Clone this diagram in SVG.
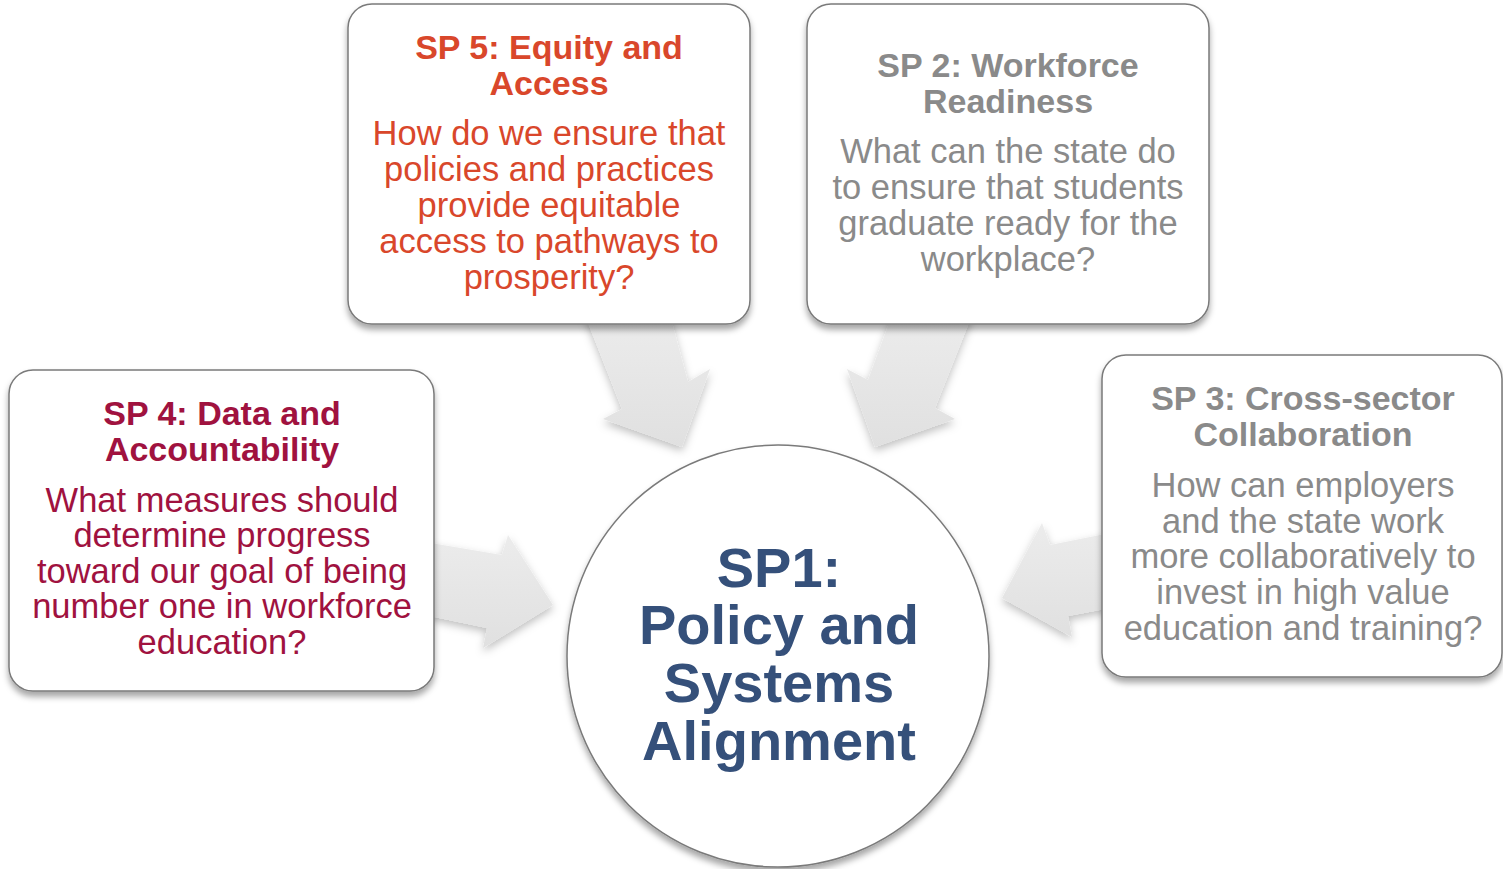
<svg xmlns="http://www.w3.org/2000/svg" width="1503" height="869" viewBox="0 0 1503 869">
<defs>
<filter id="sh" x="-10%" y="-10%" width="120%" height="125%">
<feDropShadow dx="0" dy="5" stdDeviation="3" flood-color="#000" flood-opacity="0.35"/>
</filter>
<filter id="ash" x="-20%" y="-20%" width="140%" height="140%">
<feDropShadow dx="0" dy="4" stdDeviation="4" flood-color="#000" flood-opacity="0.25"/>
</filter>
<linearGradient id="ag" x1="0" y1="0" x2="0" y2="1">
<stop offset="0" stop-color="#ececec"/>
<stop offset="1" stop-color="#e0e0e0"/>
</linearGradient>
</defs>
<style>
.box{fill:#fff;stroke:#7a7a7a;stroke-width:1.5;filter:url(#sh)}
.arr{fill:url(#ag);filter:url(#ash)}
text{font-family:"Liberation Sans",Arial,sans-serif;text-anchor:middle}
.t{font-size:34px;font-weight:bold}
.b{font-size:34.5px}
.c{font-size:56px;font-weight:bold;fill:#35507a}
.red{fill:#d9472b}
.crim{fill:#a0123f}
.gray{fill:#8a8a8a}
</style>
<g id="connectors">
<polygon class="arr" points="585,315 670,315 688,382 710,369 682,447 603,419 622,409"/>
<polygon class="arr" points="892,315 972,315 935,408 955,419 875,447 847,369 868,380"/>
<polygon class="arr" points="425,542 502,555 508,535 553,605 483,648 487,628 425,615"/>
<polygon class="arr" points="1110,533 1050,545 1042,523 1002,598 1072,637 1068,616 1110,608"/>
</g>
<g id="sp5">
<rect class="box" x="348" y="4" width="402" height="320" rx="24"/>
<text class="t red"><tspan x="549" y="59">SP 5: Equity and</tspan><tspan x="549" y="95">Access</tspan></text>
<text class="b red"><tspan x="549" y="145">How do we ensure that</tspan><tspan x="549" y="181">policies and practices</tspan><tspan x="549" y="217">provide equitable</tspan><tspan x="549" y="253">access to pathways to</tspan><tspan x="549" y="289">prosperity?</tspan></text>
</g>
<g id="sp2">
<rect class="box" x="807" y="4" width="402" height="320" rx="24"/>
<text class="t gray"><tspan x="1008" y="77">SP 2: Workforce</tspan><tspan x="1008" y="113">Readiness</tspan></text>
<text class="b gray"><tspan x="1008" y="163">What can the state do</tspan><tspan x="1008" y="199">to ensure that students</tspan><tspan x="1008" y="235">graduate ready for the</tspan><tspan x="1008" y="271">workplace?</tspan></text>
</g>
<g id="sp4">
<rect class="box" x="9" y="370" width="425" height="321" rx="24"/>
<text class="t crim"><tspan x="222" y="425">SP 4: Data and</tspan><tspan x="222" y="461">Accountability</tspan></text>
<text class="b crim"><tspan x="222" y="512">What measures should</tspan><tspan x="222" y="547">determine progress</tspan><tspan x="222" y="583">toward our goal of being</tspan><tspan x="222" y="618">number one in workforce</tspan><tspan x="222" y="654">education?</tspan></text>
</g>
<g id="sp3">
<rect class="box" x="1102" y="355" width="400" height="322" rx="24"/>
<text class="t gray"><tspan x="1303" y="410">SP 3: Cross-sector</tspan><tspan x="1303" y="446">Collaboration</tspan></text>
<text class="b gray"><tspan x="1303" y="497">How can employers</tspan><tspan x="1303" y="533">and the state work</tspan><tspan x="1303" y="568">more collaboratively to</tspan><tspan x="1303" y="604">invest in high value</tspan><tspan x="1303" y="640">education and training?</tspan></text>
</g>
<g id="sp1">
<circle cx="778" cy="656" r="211" fill="#fff" stroke="#7a7a7a" stroke-width="1.5" filter="url(#sh)"/>
<text class="c"><tspan x="779" y="587">SP1:</tspan><tspan x="779" y="644">Policy and</tspan><tspan x="779" y="702">Systems</tspan><tspan x="779" y="760">Alignment</tspan></text>
</g>
</svg>
